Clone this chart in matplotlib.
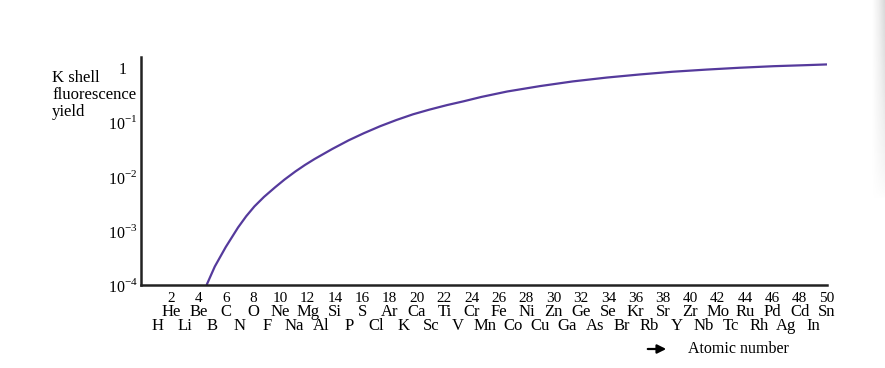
import numpy as np
import matplotlib
matplotlib.use("Agg")
import matplotlib.pyplot as plt
import matplotlib.transforms as mtransforms

plt.rcParams['font.family'] = ['Liberation Serif', 'DejaVu Serif']
plt.rcParams['mathtext.fontset'] = 'custom'
plt.rcParams['mathtext.rm'] = 'Liberation Serif'

# K shell fluorescence yield
atomic_z = [4.6, 5.2, 6.0, 6.9, 7.5, 8.1, 8.8, 9.6, 10.3, 11.1,
            11.8, 12.5, 13.8, 15.0, 16.1, 17.3, 18.5, 19.7, 20.9, 22.2,
            23.4, 24.7, 26.6, 29.0, 31.4, 33.9, 36.3, 38.7, 41.2, 43.6,
            46.1, 48.5, 50.0]
k_yield = [1.0e-4, 2.19e-4, 5.01e-4, 1.15e-3, 1.86e-3, 2.82e-3, 4.22e-3, 6.31e-3, 8.81e-3, 1.245e-2,
           1.64e-2, 2.11e-2, 3.24e-2, 4.68e-2, 6.31e-2, 8.51e-2, 0.111, 0.141, 0.172, 0.209,
           0.245, 0.295, 0.372, 0.468, 0.571, 0.673, 0.767, 0.861, 0.944, 1.02,
           1.09, 1.14, 1.175]

symbols = ['H', 'He', 'Li', 'Be', 'B', 'C', 'N', 'O', 'F', 'Ne',
           'Na', 'Mg', 'Al', 'Si', 'P', 'S', 'Cl', 'Ar', 'K', 'Ca',
           'Sc', 'Ti', 'V', 'Cr', 'Mn', 'Fe', 'Co', 'Ni', 'Cu', 'Zn',
           'Ga', 'Ge', 'As', 'Se', 'Br', 'Kr', 'Rb', 'Sr', 'Y', 'Zr',
           'Nb', 'Mo', 'Tc', 'Ru', 'Rh', 'Pd', 'Ag', 'Cd', 'In', 'Sn']

y_ticks = [1e-4, 1e-3, 1e-2, 1e-1, 1]
y_labels = [r'$10^{-4}$', r'$10^{-3}$', r'$10^{-2}$', r'$10^{-1}$', '1']
ylabel_lines = ['K shell', 'fluorescence', 'yield']

fig = plt.figure(figsize=(8.85, 3.68), dpi=100)
ax = fig.add_axes([141/885, 1-285/368, (827-141)/885, (285-57)/368])

ax.plot(atomic_z, k_yield, color='#553a9c', lw=1.6, solid_capstyle='butt')
ax.set_yscale('log')
ax.set_ylim(1e-4, 10**0.207)
ax.set_xlim(-0.2, 50)

for s in ['top', 'right']:
    ax.spines[s].set_visible(False)
for s in ['left', 'bottom']:
    ax.spines[s].set_linewidth(1.8)
    ax.spines[s].set_color('#222222')

ax.set_yticks(y_ticks)
ax.set_yticklabels(y_labels)
ax.yaxis.set_minor_locator(plt.NullLocator())
ax.tick_params(axis='y', length=0, pad=13, labelsize=11.5)
for lab in ax.get_yticklabels():
    lab.set_horizontalalignment('center')

ax.set_xticks([])
trans = mtransforms.blended_transform_factory(ax.transData, ax.transAxes)
rows_y = [(285-298)/228, (285-312)/228, (285-326)/228]
for i, sym in enumerate(symbols):
    z = i + 1
    if z % 2 == 0:
        ax.text(z, rows_y[0], str(z), transform=trans, ha='center', va='center', fontsize=11)
        ax.text(z, rows_y[1], sym, transform=trans, ha='center', va='center', fontsize=12)
    else:
        ax.text(z, rows_y[2], sym, transform=trans, ha='center', va='center', fontsize=12)

for k, line in enumerate(ylabel_lines):
    fig.text(52/885, 1-(78+17*k)/368, line, ha='left', va='center', fontsize=12)

ax.annotate('', xy=(669/885, 1-349/368), xytext=(645/885, 1-349/368),
            xycoords='figure fraction', textcoords='figure fraction',
            arrowprops=dict(arrowstyle='-|>', color='black', lw=1.6, mutation_scale=13))
fig.text(688/885, 1-349/368, 'Atomic number', ha='left', va='center', fontsize=11.5)

# faint shading at the right edge
grad = np.linspace(0, 1, 20)[None, :] * np.linspace(1, 0, 60)[:, None] ** 0.6
sh = fig.add_axes([872/885, 1-200/368, 13/885, 200/368])
sh.imshow(grad, cmap='Greys', vmin=0, vmax=4, aspect='auto')
sh.axis('off')

fig.savefig('out.png', dpi=100)
